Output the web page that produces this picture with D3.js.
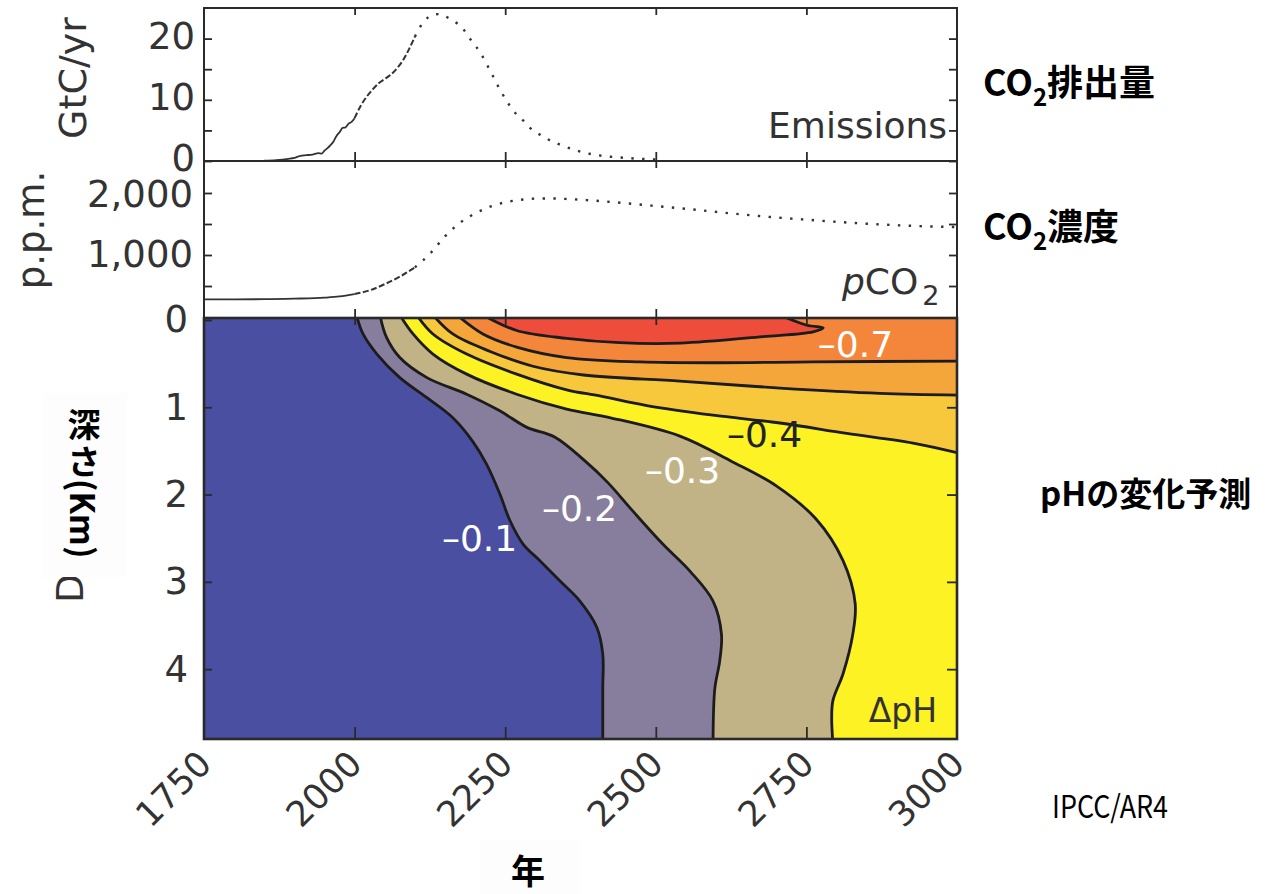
<!DOCTYPE html>
<html><head><meta charset="utf-8">
<script src="https://cdn.jsdelivr.net/npm/d3@7"></script>
<style>
html,body{margin:0;padding:0;background:#fff;}
svg{display:block;}
</style></head>
<body>
<svg id="chart" width="1272" height="894"></svg>
<script>
// ---------------- data ----------------
const xTickYears = [1750, 2000, 2250, 2500, 2750, 3000];
const xInnerTickYears = [2000, 2250, 2500, 2750];

const emissionYears = [1850,1870,1890,1900,1910,1920,1930,1940,1945,1950,1955,1960,1965,1970,1975,1980,1985,1990,1995,2000,
  2010,2020,2030,2040,2050,2060,2070,2080,2090,2100,
  2110,2120,2130,2140,2150,2160,2170,2180,2190,2200,2210,2220,2230,2240,2250,2260,2270,2280,2290,2300,
  2320,2340,2360,2380,2400,2425,2450,2475,2500,2510];
const emissionValues = [0.05,0.15,0.35,0.5,0.85,0.95,1.05,1.3,1.2,1.7,2.1,2.6,3.2,4.1,4.7,5.4,5.5,6.1,6.4,7.0,
  9.0,10.5,11.7,12.7,13.4,14.1,15.1,16.4,18.2,20.3,
  22.1,23.3,23.9,24.0,23.7,23.1,22.5,21.6,20.2,18.9,17.5,15.7,13.8,11.9,10.2,8.7,7.5,6.6,5.5,4.8,
  3.6,2.7,2.0,1.4,1.0,0.7,0.5,0.35,0.25,0.2];

const pco2Years = [1750,1800,1850,1900,1950,1975,2000,2025,2050,2075,2100,2125,2150,2175,2200,2225,2250,2275,2300,2325,2350,
  2400,2450,2500,2550,2600,2650,2700,2750,2800,2850,2900,2950,3000];
const pco2Values = [285,285,287,296,312,331,370,430,530,650,800,1020,1300,1520,1670,1780,1850,1890,1910,1912,1905,
  1875,1835,1790,1745,1695,1648,1605,1570,1535,1505,1480,1462,1450];

// year where line style changes: solid -> dashed -> dotted
const styleBreakYears = [2000, 2100];

const emissionTicks = [0, 10, 20];
const emissionMinorTicks = [5, 15];
const pco2Ticks = [1000, 2000];
const pco2MinorTicks = [500, 1500];
const depthTicks = [0, 1, 2, 3, 4];

// ΔpH contour lines, [year, depth km]
const contour01 = [[2003,0],[2014,0.16],[2037,0.39],[2075,0.66],[2120,0.89],[2163,1.12],[2196,1.39],[2219,1.65],[2241,1.99],[2258,2.30],[2280,2.57],[2308,2.76],[2341,2.99],[2374,3.22],[2402,3.52],[2412,3.83],[2412,4.22],[2412,4.85]];
const contour02 = [[2042,0],[2053,0.20],[2075,0.43],[2120,0.66],[2186,0.85],[2241,1.04],[2286,1.23],[2332,1.34],[2380,1.60],[2420,1.86],[2462,2.19],[2512,2.57],[2557,2.88],[2595,3.22],[2609,3.60],[2606,3.91],[2598,4.22],[2595,4.85]];
const contour03 = [[2075,0],[2097,0.16],[2130,0.39],[2186,0.62],[2269,0.85],[2352,1.02],[2425,1.12],[2540,1.33],[2626,1.62],[2700,1.90],[2766,2.28],[2811,2.76],[2831,3.25],[2827,3.60],[2811,4.05],[2794,4.36],[2792,4.56],[2794,4.85]];
const contour04 = [[2103,0],[2130,0.16],[2186,0.39],[2269,0.62],[2352,0.80],[2407,0.87],[2485,0.98],[2595,1.09],[2706,1.18],[2817,1.30],[2927,1.41],[3000,1.52]];
const contour05 = [[2130,0],[2163,0.16],[2225,0.36],[2296,0.53],[2380,0.63],[2540,0.70],[2706,0.78],[2872,0.84],[3000,0.86]];
const contour06 = [[2170,0],[2213,0.16],[2269,0.31],[2352,0.43],[2474,0.48],[2600,0.49],[2761,0.48],[3000,0.47]];
const contour07 = [[2213,0],[2269,0.12],[2352,0.21],[2440,0.26],[2540,0.265],[2678,0.19],[2761,0.135],[2778,0.09],[2751,0.06],[2706,0.0]];

const phLevels = ["-0.1","-0.2","-0.3","-0.4","-0.5","-0.6","-0.7"];
const bandColors = ["#4b4fa2","#877e9d","#c2b387","#fcf224","#f7c83b","#f5a63b","#f4863c","#ee4d3c"];

const contourLabelTexts = ["–0.1","–0.2","–0.3","–0.4","–0.7"];
const contourLabelYears = [2145, 2311, 2482, 2618, 2769];
const contourLabelDepths = [2.65, 2.30, 1.87, 1.46, 0.42];
const contourLabelDark = [false, false, false, true, false];

// ---------------- layout ----------------
const svg = d3.select("#chart");
const FONT = "'DejaVu Sans', 'Liberation Sans', sans-serif";
const JP = "'Noto Sans CJK JP', 'Noto Sans', sans-serif";
const ink = "#333";

const X0 = 204, X1 = 957;
const P1 = {top: 8, bottom: 161};
const P2 = {top: 161, bottom: 318};
const P3 = {top: 318, bottom: 739};

const x = d3.scaleLinear().domain([1750, 3000]).range([X0, X1]);
const yE = d3.scaleLinear().domain([0, 25]).range([P1.bottom, P1.top]);
const yC = d3.scaleLinear().domain([0, 2500]).range([317, 162]);
const yD = d3.scaleLinear().domain([0, 4.8]).range([320, 739]);

// ---------------- contour panel ----------------
svg.append("clipPath").attr("id","clipD").append("rect")
  .attr("x", X0).attr("y", P3.top).attr("width", X1 - X0).attr("height", P3.bottom - P3.top);

const gD = svg.append("g").attr("clip-path","url(#clipD)");
gD.append("rect").attr("x", X0).attr("y", P3.top).attr("width", X1 - X0).attr("height", P3.bottom - P3.top)
  .attr("fill", bandColors[0]);

const toPx = p => [x(p[0]), p[1] <= 0 ? P3.top - 3 : yD(p[1])];
const cLine = d3.line().curve(d3.curveCatmullRom.alpha(0.5));

const contours = [contour01, contour02, contour03, contour04, contour05, contour06, contour07];
const closeKinds = ["bottom","bottom","bottom","right","right","right","closed"];

contours.forEach((c, i) => {
  const pts = c.map(toPx);
  let d = cLine(pts);
  if (closeKinds[i] === "bottom") {
    d += `L${X1 + 6},${P3.bottom + 6}L${X1 + 6},${P3.top - 6}L${pts[0][0]},${P3.top - 6}Z`;
  } else if (closeKinds[i] === "right") {
    d += `L${X1 + 6},${pts[pts.length - 1][1]}L${X1 + 6},${P3.top - 6}L${pts[0][0]},${P3.top - 6}Z`;
  } else {
    d += "Z";
  }
  gD.append("path").attr("d", d).attr("fill", bandColors[i + 1]).attr("stroke", "none");
});
contours.forEach((c) => {
  gD.append("path").attr("d", cLine(c.map(toPx))).attr("fill", "none")
    .attr("stroke", "#1c1c1c").attr("stroke-width", 2.8).attr("stroke-linejoin","round");
});

// contour labels
contourLabelTexts.forEach((t, i) => {
  svg.append("text").attr("x", x(contourLabelYears[i])).attr("y", yD(contourLabelDepths[i]))
    .text(t).attr("fill", contourLabelDark[i] ? "#222" : "#fff")
    .style("font-family", FONT).style("font-size", "36px");
});
svg.append("text").attr("x", 937).attr("y", 722).attr("text-anchor","end").text("ΔpH")
  .attr("fill", "#333").style("font-family", FONT).style("font-size", "33px");

// ---------------- line panels ----------------
function splitByYear(years, values, breaks) {
  const segs = [[], [], []];
  years.forEach((yr, i) => {
    const p = [yr, values[i]];
    if (yr <= breaks[0]) segs[0].push(p);
    if (yr >= breaks[0] && yr <= breaks[1]) segs[1].push(p);
    if (yr >= breaks[1]) segs[2].push(p);
  });
  return segs;
}
const segStyles = [
  {dash: null, w: 1.8},
  {dash: "6,2.5", w: 2.0},
  {dash: "2.4,8.4", w: 2.4}
];
function drawSeries(years, values, yScale) {
  const segs = splitByYear(years, values, styleBreakYears);
  const ln = d3.line().x(d => x(d[0])).y(d => yScale(d[1])).curve(d3.curveMonotoneX);
  segs.forEach((s, i) => {
    if (s.length < 2) return;
    const p = svg.append("path").attr("d", ln(s)).attr("fill","none")
      .attr("stroke", "#333").attr("stroke-width", segStyles[i].w);
    if (segStyles[i].dash) p.attr("stroke-dasharray", segStyles[i].dash);
  });
}
drawSeries(emissionYears, emissionValues, yE);
drawSeries(pco2Years, pco2Values, yC);

// ---------------- frames ----------------
[[P1, 2], [P2, 2], [P3, 2.6]].forEach(([P, w]) => {
  svg.append("rect").attr("x", X0).attr("y", P.top).attr("width", X1 - X0).attr("height", P.bottom - P.top)
    .attr("fill","none").attr("stroke", "#2a2a2a").attr("stroke-width", w);
});

// ---------------- axes ----------------
function styleAxis(g, size) {
  g.select(".domain").remove();
  g.selectAll(".tick line").attr("stroke", "#2a2a2a").attr("stroke-width", 1.8);
  g.selectAll(".tick text").attr("fill", ink).style("font-family", FONT).style("font-size", (size || 37) + "px");
  return g;
}
const fmtInt = d3.format("d");
// y axes left with labels
styleAxis(svg.append("g").attr("transform", `translate(${X0},0)`)
  .call(d3.axisLeft(yE).tickValues(emissionTicks).tickSizeInner(-8).tickSizeOuter(0).tickPadding(9).tickFormat(fmtInt)))
  .selectAll(".tick text").attr("y", -2);
styleAxis(svg.append("g").attr("transform", `translate(${X0},0)`)
  .call(d3.axisLeft(yE).tickValues(emissionMinorTicks).tickSizeInner(-8).tickSizeOuter(0).tickFormat("")));
styleAxis(svg.append("g").attr("transform", `translate(${X1},0)`)
  .call(d3.axisRight(yE).tickValues(emissionTicks.concat(emissionMinorTicks)).tickSizeInner(-8).tickSizeOuter(0).tickFormat("")));

styleAxis(svg.append("g").attr("transform", `translate(${X0},0)`)
  .call(d3.axisLeft(yC).tickValues(pco2Ticks).tickSizeInner(-8).tickSizeOuter(0).tickPadding(11).tickFormat(d3.format(","))))
  .selectAll(".tick text").attr("y", d => d === 2000 ? 2 : 0);
styleAxis(svg.append("g").attr("transform", `translate(${X0},0)`)
  .call(d3.axisLeft(yC).tickValues(pco2MinorTicks).tickSizeInner(-8).tickSizeOuter(0).tickFormat("")));
styleAxis(svg.append("g").attr("transform", `translate(${X1},0)`)
  .call(d3.axisRight(yC).tickValues(pco2Ticks.concat(pco2MinorTicks)).tickSizeInner(-8).tickSizeOuter(0).tickFormat("")));

styleAxis(svg.append("g").attr("transform", `translate(${X0},0)`)
  .call(d3.axisLeft(yD).tickValues(depthTicks).tickSizeInner(-8).tickSizeOuter(0).tickPadding(16).tickFormat(fmtInt)));
styleAxis(svg.append("g").attr("transform", `translate(${X1},0)`)
  .call(d3.axisRight(yD).tickValues(depthTicks.slice(1)).tickSizeInner(-10).tickSizeOuter(0).tickFormat("")));

// x ticks on each panel edge
[[P1, 7, 9], [P2, 7, 9], [P3, 7, 12]].forEach(([P, tTop, tBot]) => {
  styleAxis(svg.append("g").attr("transform", `translate(0,${P.top})`)
    .call(d3.axisTop(x).tickValues(xInnerTickYears).tickSizeInner(-tTop).tickSizeOuter(0).tickFormat("")));
  if (P !== P3) {
    styleAxis(svg.append("g").attr("transform", `translate(0,${P.bottom})`)
      .call(d3.axisBottom(x).tickValues(xInnerTickYears).tickSizeInner(-tBot).tickSizeOuter(0).tickFormat("")));
  }
});
const gX = styleAxis(svg.append("g").attr("transform", `translate(0,${P3.bottom})`)
  .call(d3.axisBottom(x).tickValues(xTickYears).tickSizeInner(-12).tickSizeOuter(0).tickFormat(fmtInt)), 35);
gX.selectAll(".tick text").attr("x", 0).attr("y", 0).attr("dy", 0)
  .attr("transform", "translate(9,27) rotate(-45)").style("text-anchor", "end");
gX.selectAll(".tick line").filter(d => d === 1750 || d === 3000).remove();

// ---------------- axis titles & annotations ----------------
svg.append("text").attr("transform", "translate(86,78) rotate(-90)").attr("text-anchor","middle")
  .text("GtC/yr").attr("fill", ink).style("font-family", FONT).style("font-size", "38px");
svg.append("text").attr("transform", "translate(44,230) rotate(-90)").attr("text-anchor","middle")
  .text("p.p.m.").attr("fill", ink).style("font-family", FONT).style("font-size", "37px");

svg.append("text").attr("x", 947).attr("y", 138).attr("text-anchor","end").text("Emissions")
  .attr("fill", ink).style("font-family", FONT).style("font-size", "36px");
const pco = svg.append("text").attr("x", 842).attr("y", 294).attr("fill", ink)
  .style("font-family", FONT).style("font-size", "36px");
pco.append("tspan").text("p").style("font-style","italic");
pco.append("tspan").text("CO");
pco.append("tspan").text("2").attr("dx", 4).attr("dy", 11).style("font-size", "27px");

// original "Depth" label, mostly covered by the Japanese label box
svg.append("text").attr("transform", "translate(83,603) rotate(-90)").text("Depth")
  .attr("fill", ink).style("font-family", FONT).style("font-size", "38px");
svg.append("rect").attr("x", 43).attr("y", 393).attr("width", 84).attr("height", 184).attr("fill", "#fdfdfd");
const jpStyle = s => s.attr("fill", "#000").style("font-family", JP).style("font-weight", 700).style("font-size", "33px");
jpStyle(svg.append("text").attr("x", 84).attr("y", 437).attr("text-anchor", "middle").text("深"));
jpStyle(svg.append("text").attr("x", 84).attr("y", 474).attr("text-anchor", "middle").text("さ"));
jpStyle(svg.append("text").attr("transform", "translate(84,479) rotate(90)")
  .attr("dominant-baseline", "central").text("(Km)"));

svg.append("rect").attr("x", 480).attr("y", 840).attr("width", 100).attr("height", 54).attr("fill", "#fdfdfd");
svg.append("text").attr("x", 528).attr("y", 884).attr("text-anchor","middle").text("年")
  .attr("fill", "#000").style("font-family", JP).style("font-weight", 700).style("font-size", "34px");

function jpTitle(xp, yp, parts) {
  const t = svg.append("text").attr("x", xp).attr("y", yp).attr("fill", "#000")
    .style("font-family", JP).style("font-weight", 700).style("font-size", "36px");
  parts.forEach(p => {
    const s = t.append("tspan").text(p.t);
    if (p.sub) s.attr("dy", 10).style("font-size", "24px");
    if (p.back) s.attr("dy", -10);
  });
}
jpTitle(983, 96, [{t:"CO"}, {t:"2", sub:true}, {t:"排出量", back:true}]);
jpTitle(983, 240, [{t:"CO"}, {t:"2", sub:true}, {t:"濃度", back:true}]);
svg.append("text").attr("x", 1040).attr("y", 506).text("pHの変化予測").attr("fill", "#000")
  .style("font-family", JP).style("font-weight", 700).style("font-size", "33px");
svg.append("text").attr("x", 1052).attr("y", 818).text("IPCC/AR4").attr("fill", "#000")
  .attr("textLength", 116).attr("lengthAdjust", "spacingAndGlyphs")
  .style("font-family", JP).style("font-size", "31px");
</script>
</body></html>
